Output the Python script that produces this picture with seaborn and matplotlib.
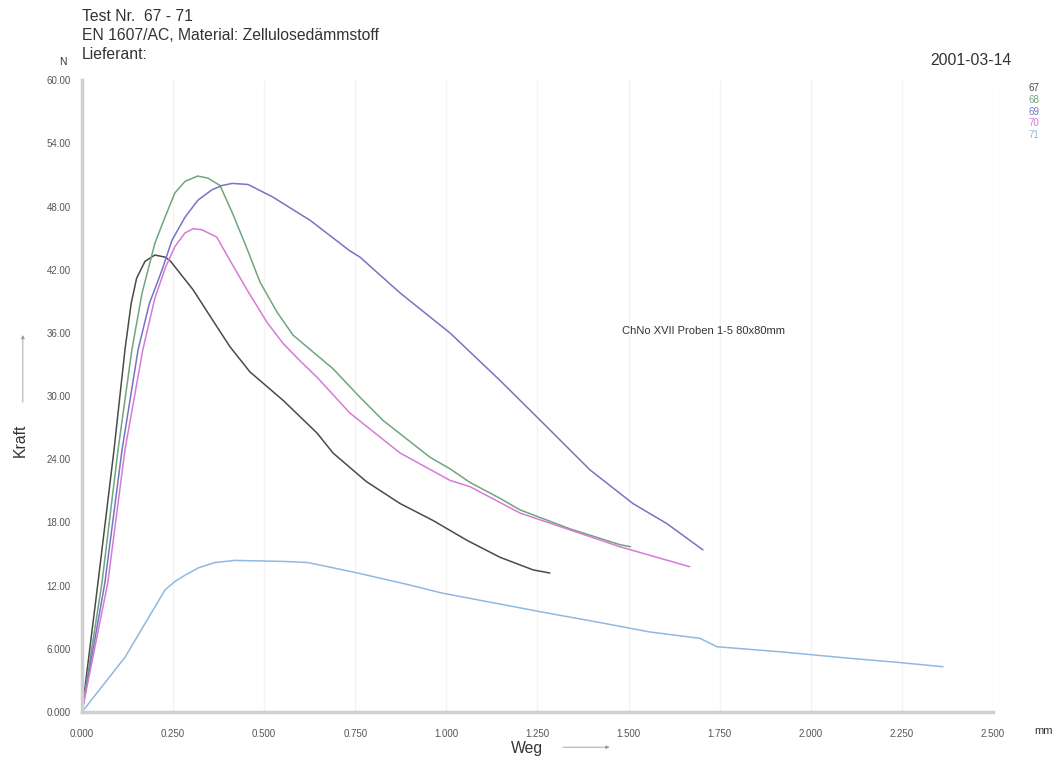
import pandas as pd
import seaborn as sns
import matplotlib.pyplot as plt

# Curves (Weg in mm, Kraft in N)
weg_67 = [0.000, 0.044, 0.088, 0.118, 0.135, 0.150, 0.173, 0.200, 0.228, 0.241, 0.305, 0.359, 0.406,
          0.461, 0.552, 0.645, 0.689, 0.780, 0.873, 0.963, 1.057, 1.147, 1.238, 1.284]
kraft_67 = [0.0, 12.3, 24.9, 34.4, 38.8, 41.2, 42.8, 43.4, 43.2, 42.9, 40.1, 37.2, 34.7,
            32.3, 29.6, 26.5, 24.6, 21.9, 19.8, 18.2, 16.3, 14.7, 13.5, 13.2]

weg_68 = [0.000, 0.055, 0.099, 0.137, 0.165, 0.200, 0.228, 0.255, 0.283, 0.318, 0.346, 0.379, 0.414,
          0.453, 0.489, 0.535, 0.579, 0.634, 0.689, 0.760, 0.826, 0.955, 1.010, 1.065, 1.147, 1.202,
          1.339, 1.476, 1.505]
kraft_68 = [0.0, 12.3, 24.9, 34.4, 39.8, 44.5, 47.0, 49.3, 50.4, 50.9, 50.7, 50.0, 47.3,
            44.0, 40.8, 38.0, 35.8, 34.2, 32.6, 30.0, 27.7, 24.2, 23.1, 21.8, 20.3, 19.2,
            17.4, 15.9, 15.7]

weg_69 = [0.000, 0.063, 0.110, 0.154, 0.185, 0.220, 0.247, 0.283, 0.318, 0.357, 0.384, 0.412, 0.456,
          0.524, 0.598, 0.626, 0.735, 0.763, 0.873, 1.010, 1.147, 1.284, 1.394, 1.512, 1.605, 1.704]
kraft_69 = [0.0, 12.3, 24.9, 34.4, 38.8, 42.0, 44.8, 47.0, 48.6, 49.6, 50.0, 50.2, 50.1,
            48.9, 47.3, 46.7, 43.8, 43.2, 39.8, 36.0, 31.5, 26.8, 23.0, 19.8, 17.9, 15.4]

weg_70 = [0.000, 0.071, 0.118, 0.167, 0.200, 0.230, 0.255, 0.283, 0.305, 0.329, 0.370, 0.406, 0.453,
          0.508, 0.552, 0.600, 0.645, 0.735, 0.873, 1.010, 1.065, 1.202, 1.339, 1.476, 1.668]
kraft_70 = [0.0, 12.3, 24.9, 34.4, 39.3, 42.3, 44.2, 45.5, 45.9, 45.8, 45.1, 42.9, 40.1,
            37.0, 35.0, 33.3, 31.8, 28.4, 24.6, 22.0, 21.4, 18.9, 17.3, 15.7, 13.8]

weg_71 = [0.000, 0.118, 0.228, 0.255, 0.283, 0.320, 0.365, 0.420, 0.557, 0.620, 0.757, 0.895, 0.988,
          1.125, 1.262, 1.421, 1.559, 1.696, 1.743, 1.924, 2.108, 2.245, 2.363]
kraft_71 = [0.0, 5.2, 11.6, 12.4, 13.0, 13.7, 14.2, 14.4, 14.3, 14.2, 13.2, 12.1, 11.3,
            10.4, 9.5, 8.5, 7.6, 7.0, 6.2, 5.7, 5.1, 4.7, 4.3]

tests = ["67", "68", "69", "70", "71"]
colors = ["#4a4a4a", "#6fa57f", "#7474c6", "#d77ad7", "#8fb8e2"]

x_ticks = [0.0, 0.25, 0.5, 0.75, 1.0, 1.25, 1.5, 1.75, 2.0, 2.25, 2.5]
x_labels = ["0.000", "0.250", "0.500", "0.750", "1.000", "1.250", "1.500", "1.750", "2.000", "2.250", "2.500"]
y_ticks = [0, 6, 12, 18, 24, 30, 36, 42, 48, 54, 60]
y_labels = ["0.000", "6.000", "12.00", "18.00", "24.00", "30.00", "36.00", "42.00", "48.00", "54.00", "60.00"]

# long table for seaborn
frames = []
for name, w, k in zip(tests, [weg_67, weg_68, weg_69, weg_70, weg_71],
                      [kraft_67, kraft_68, kraft_69, kraft_70, kraft_71]):
    frames.append(pd.DataFrame({"Weg": w, "Kraft": k, "Test": name}))
df = pd.concat(frames, ignore_index=True)

sns.set_style("white")
plt.rcParams['font.family'] = ['Liberation Sans', 'DejaVu Sans']

fig = plt.figure(figsize=(10.63, 7.64), dpi=100)
ax = fig.add_axes([0.0771, 0.068, 0.857, 0.827])

sns.lineplot(data=df, x="Weg", y="Kraft", hue="Test", palette=dict(zip(tests, colors)),
             sort=False, estimator=None, linewidth=1.1, legend=False, ax=ax)

ax.set_xlim(0, 2.5)
ax.set_ylim(0, 60)
ax.set_xticks(x_ticks)
ax.set_xticklabels(x_labels, fontsize=7, color="#555555", fontstretch="condensed")
ax.set_yticks(y_ticks)
ax.set_yticklabels(y_labels, fontsize=7, color="#555555", fontstretch="condensed")
ax.tick_params(axis="x", length=0, pad=12)
ax.tick_params(axis="y", length=0, pad=8)
ax.grid(axis="x", color="#f3f3f3", linewidth=1)
ax.set_xlabel("")
ax.set_ylabel("")

for s in ["top", "right"]:
    ax.spines[s].set_visible(False)
for s in ["left", "bottom"]:
    ax.spines[s].set_color("#cfcfcf")
    ax.spines[s].set_linewidth(2.5)

# header text
fig.text(0.0771, 0.988, "Test Nr.  67 - 71", fontsize=11.3, color="#333333", va="top")
fig.text(0.0771, 0.963, "EN 1607/AC, Material: Zellulosedämmstoff", fontsize=11.3, color="#333333", va="top")
fig.text(0.0771, 0.938, "Lieferant:", fontsize=11.3, color="#333333", va="top")
fig.text(0.0595, 0.919, "N", fontsize=7.5, color="#333333", ha="center", va="center")
fig.text(0.952, 0.921, "2001-03-14", fontsize=11.3, color="#333333", ha="right", va="center")
fig.text(0.982, 0.043, "mm", fontsize=8, color="#333333", ha="center", va="center")

# legend labels
for i, (name, c) in enumerate(zip(tests, colors)):
    fig.text(0.968, 0.885 - i * 0.0155, name, fontsize=7, color=c, va="center")

# annotation
ax.text(1.482, 36.2, "ChNo XVII Proben 1-5 80x80mm", fontsize=8, color="#333333", va="center")

# axis names with arrows
fig.text(0.496, 0.020, "Weg", fontsize=11.3, color="#333333", ha="center", va="center")
ax.annotate("", xy=(0.576, 0.022), xytext=(0.527, 0.022), xycoords="figure fraction",
            textcoords="figure fraction", annotation_clip=False,
            arrowprops=dict(arrowstyle="-|>", color="#999999", lw=0.6, mutation_scale=5))
fig.text(0.019, 0.424, "Kraft", fontsize=11.3, color="#333333", rotation=90, ha="center", va="center")
ax.annotate("", xy=(0.0215, 0.565), xytext=(0.0215, 0.47), xycoords="figure fraction",
            textcoords="figure fraction", annotation_clip=False,
            arrowprops=dict(arrowstyle="-|>", color="#999999", lw=0.6, mutation_scale=5))

plt.savefig("out.png", dpi=100)
